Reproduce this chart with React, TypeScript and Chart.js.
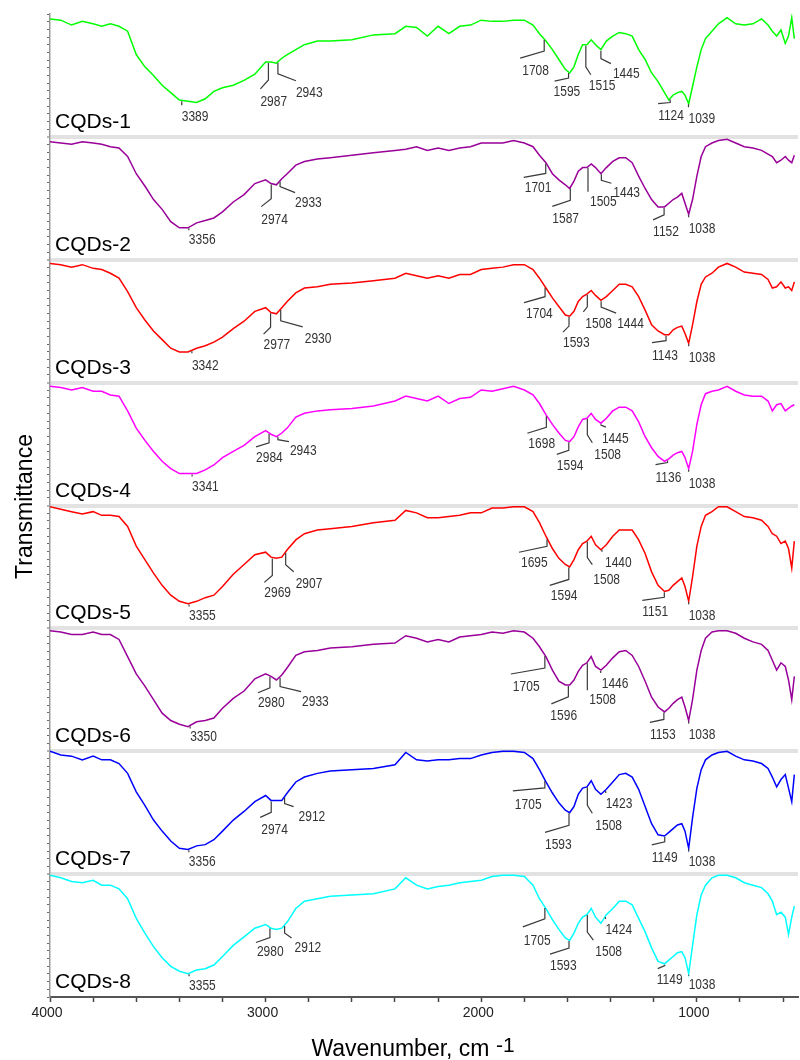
import { useEffect, useRef } from 'react';
import { Chart, registerables } from 'chart.js';

Chart.register(...registerables);

// Shared wavenumber grid (cm-1), descending
const WAVENUMBERS = [
  4000, 3950, 3900, 3850, 3800, 3760, 3720, 3680, 3640, 3600,
  3560, 3520, 3480, 3440, 3400, 3360, 3320, 3280, 3240, 3200,
  3150, 3100, 3050, 3000, 2975, 2950, 2925, 2900, 2860, 2820,
  2760, 2700, 2600, 2500, 2400, 2350, 2300, 2250, 2200, 2150,
  2100, 2050, 2000, 1950, 1900, 1850, 1800, 1760, 1730, 1700,
  1670, 1640, 1610, 1590, 1570, 1550, 1530, 1510, 1490, 1470,
  1445, 1420, 1390, 1360, 1330, 1300, 1270, 1240, 1210, 1180,
  1150, 1130, 1110, 1090, 1070, 1055, 1038, 1020, 1000, 980,
  960, 930, 900, 860, 820, 780, 740, 700, 670, 650,
  630, 610, 590, 575, 560, 548,
];

// Relative transmittance within each stacked panel (0 = panel bottom, 100 = panel top)
const CQD1 = [
  96, 95, 91, 94, 92, 90, 92, 90, 86, 67,
  57, 50, 42, 36, 30, 29, 28, 31, 37, 40,
  42, 46, 51, 61, 61, 60, 64, 67, 71, 75,
  78, 78, 79, 83, 84, 90, 89, 82, 90, 84,
  90, 91, 95, 94, 94, 95, 95, 91, 84, 78,
  71, 63, 55, 52, 57, 67, 75, 75, 79, 75,
  71, 78, 82, 85, 84, 82, 71, 63, 52, 45,
  36, 30, 34, 36, 37, 34, 27, 41, 57, 71,
  80, 86, 92, 97, 92, 91, 92, 96, 91, 86,
  82, 87, 76, 82, 97, 80,
];
const CQD2 = [
  96, 95, 94, 96, 95, 94, 92, 91, 84, 70,
  60, 49, 41, 31, 26, 26, 30, 32, 34, 39,
  47, 53, 62, 65, 62, 61, 66, 70, 77, 80,
  82, 83, 85, 87, 89, 90, 92, 89, 91, 89,
  91, 92, 95, 95, 95, 97, 95, 92, 85, 79,
  70, 65, 61, 58, 64, 72, 75, 75, 78, 75,
  70, 75, 80, 83, 83, 79, 68, 58, 49, 43,
  43, 46, 49, 51, 54, 46, 37, 49, 68, 84,
  92, 95, 97, 98, 95, 92, 91, 89, 86, 84,
  79, 81, 84, 81, 79, 85,
];
const CQD3 = [
  97, 96, 94, 96, 93, 92, 89, 85, 74, 61,
  51, 42, 35, 28, 25, 25, 28, 30, 33, 37,
  44, 50, 58, 61, 57, 56, 61, 66, 73, 77,
  78, 80, 81, 83, 85, 89, 87, 85, 87, 85,
  88, 88, 92, 93, 94, 96, 96, 92, 85, 77,
  69, 62, 55, 54, 58, 66, 70, 72, 75, 71,
  67, 70, 75, 80, 80, 78, 70, 59, 47, 42,
  39, 39, 43, 45, 46, 40, 32, 47, 66, 80,
  86, 89, 94, 97, 94, 90, 89, 88, 84, 77,
  78, 82, 77, 78, 75, 82,
];
const CQD4 = [
  97, 96, 94, 96, 93, 93, 90, 89, 77, 63,
  53, 44, 36, 30, 26, 26, 26, 29, 33, 39,
  44, 49, 56, 61, 58, 56, 59, 63, 72, 75,
  77, 78, 79, 81, 85, 89, 87, 85, 89, 83,
  87, 88, 94, 93, 95, 97, 94, 90, 83, 74,
  66, 59, 53, 52, 56, 64, 70, 71, 75, 70,
  67, 71, 77, 80, 80, 77, 68, 56, 47, 40,
  36, 38, 41, 43, 44, 39, 30, 44, 66, 82,
  91, 93, 94, 97, 93, 90, 89, 89, 85, 77,
  82, 83, 77, 79, 81, 82,
];
const CQD5 = [
  99, 97, 95, 93, 95, 92, 92, 91, 83, 67,
  56, 45, 35, 27, 22, 20, 22, 25, 27, 34,
  44, 52, 60, 62, 58, 57, 58, 64, 72, 77,
  80, 81, 83, 86, 88, 96, 94, 90, 90, 91,
  92, 94, 94, 98, 98, 99, 99, 95, 86, 75,
  65, 57, 52, 50, 56, 64, 69, 71, 75, 68,
  64, 68, 75, 80, 80, 80, 72, 61, 46, 35,
  30, 31, 35, 38, 41, 34, 22, 42, 67, 83,
  92, 95, 99, 99, 95, 91, 90, 88, 83, 77,
  75, 69, 71, 65, 49, 71,
];
const CQD6 = [
  98, 97, 95, 95, 97, 95, 95, 91, 77, 63,
  53, 42, 31, 25, 22, 20, 24, 25, 27, 35,
  43, 49, 59, 63, 61, 58, 62, 68, 78, 81,
  82, 84, 85, 87, 88, 94, 92, 89, 91, 89,
  93, 94, 95, 97, 96, 98, 97, 92, 85, 77,
  66, 57, 54, 54, 58, 65, 70, 72, 77, 69,
  66, 70, 76, 81, 82, 78, 69, 57, 44, 36,
  32, 35, 39, 42, 44, 36, 25, 42, 66, 82,
  92, 97, 98, 98, 96, 92, 89, 87, 82, 74,
  66, 72, 69, 58, 42, 61,
];
const CQD7 = [
  100, 97, 96, 93, 96, 93, 93, 90, 82, 67,
  56, 44, 35, 27, 21, 20, 23, 24, 28, 35,
  44, 51, 59, 64, 60, 60, 60, 66, 75, 79,
  82, 84, 85, 86, 89, 99, 93, 92, 93, 93,
  94, 94, 97, 99, 100, 100, 99, 94, 85, 75,
  66, 58, 52, 50, 55, 65, 70, 71, 76, 69,
  65, 69, 75, 81, 82, 79, 69, 55, 41, 32,
  31, 34, 37, 40, 41, 35, 21, 46, 70, 85,
  93, 97, 99, 100, 96, 93, 92, 90, 86, 79,
  71, 77, 81, 70, 59, 81,
];
const CQD8 = [
  99, 97, 94, 93, 95, 91, 91, 88, 80, 64,
  52, 41, 32, 25, 21, 19, 22, 23, 26, 33,
  42, 49, 56, 59, 56, 55, 56, 61, 72, 78,
  80, 82, 83, 84, 88, 97, 91, 88, 90, 91,
  93, 94, 95, 98, 99, 99, 98, 91, 80, 72,
  63, 55, 48, 46, 52, 60, 65, 67, 72, 65,
  60, 67, 72, 78, 78, 75, 64, 53, 40, 29,
  27, 30, 33, 36, 37, 32, 19, 42, 67, 83,
  91, 97, 99, 99, 97, 93, 91, 89, 84, 78,
  67, 69, 65, 51, 65, 74,
];

const SERIES_NAMES = ['CQDs-1', 'CQDs-2', 'CQDs-3', 'CQDs-4', 'CQDs-5', 'CQDs-6', 'CQDs-7', 'CQDs-8'];
const SERIES_COLORS = ['#00ff00', '#990099', '#ff0000', '#ff00ff', '#ff0000', '#990099', '#0000ff', '#00ffff'];

// Peak labels (cm-1) for each spectrum
const PEAKS1 = [3389, 2987, 2943, 1708, 1595, 1515, 1445, 1124, 1039];
const PEAKS2 = [3356, 2974, 2933, 1701, 1587, 1505, 1443, 1152, 1038];
const PEAKS3 = [3342, 2977, 2930, 1704, 1593, 1508, 1444, 1143, 1038];
const PEAKS4 = [3341, 2984, 2943, 1698, 1594, 1508, 1445, 1136, 1038];
const PEAKS5 = [3355, 2969, 2907, 1695, 1594, 1508, 1440, 1151, 1038];
const PEAKS6 = [3350, 2980, 2933, 1705, 1596, 1508, 1446, 1153, 1038];
const PEAKS7 = [3356, 2974, 2912, 1705, 1593, 1508, 1423, 1149, 1038];
const PEAKS8 = [3355, 2980, 2912, 1705, 1593, 1508, 1424, 1149, 1038];

const X_TICKS = [4000, 3800, 3600, 3400, 3200, 3000, 2800, 2600, 2400, 2200, 2000, 1800, 1600, 1400, 1200, 1000, 800, 600];
const X_MIN = 531;
const X_MAX = 4000;

// Leader-line styling per peak label: [vertical len, diag dx, diag dy, text dx, text dy] (pixels)
const LEADERS = [
  [[5, 0, 0, 0, 5], [18, -8, 9, 0, 6], [12, 18, 7, 0, 5], [12, -24, 7, 2, 6], [6, -14, 3, -1, 4], [22, 5, 8, -2, 4], [9, 10, 5, 2, 3], [4, -12, 1, 0, 5], [4, 0, 0, 0, 5]],
  [[3, 0, 0, 0, 3], [15, -10, 8, 0, 6], [6, 15, 6, 0, 3], [11, -22, 4, 1, 4], [13, -18, 6, 0, 6], [25, 0, 0, 2, 3], [7, 10, 3, 2, 3], [8, -11, 5, 0, 5], [3, 0, 0, 0, 5]],
  [[3, 0, 0, 0, 6], [15, -7, 7, 0, 4], [12, 22, 6, 2, 5], [10, -21, 6, 2, 4], [10, -6, 6, 0, 4], [13, -4, 5, 2, 5], [7, 15, 6, 1, 4], [6, -14, 2, 0, 6], [3, 0, 0, 0, 5]],
  [[3, 0, 0, 0, 3], [10, -13, 4, 0, 4], [4, 11, 2, 1, 2], [12, -19, 6, 1, 4], [9, -12, 4, 0, 5], [17, 5, 8, 2, 5], [2, 5, 2, -4, 5], [3, -12, 2, 0, 6], [3, 0, 0, 0, 5]],
  [[3, 0, 0, 0, 3], [18, -8, 7, 0, 4], [13, 8, 7, 2, 5], [8, -28, 6, 2, 4], [13, -19, 6, 1, 4], [17, 5, 7, 1, 8], [3, 0, 0, 3, 4], [6, -22, 3, 0, 5], [3, 0, 0, 0, 5]],
  [[3, 0, 0, 0, 2], [12, -12, 5, 0, 3], [10, 21, 5, 1, 3], [13, -34, 6, 2, 6], [12, -17, 7, -1, 5], [28, 0, 0, 2, 3], [3, 0, 0, 1, 4], [8, -14, 3, 0, 6], [3, 0, 0, 0, 4]],
  [[3, 0, 0, 0, 3], [12, -11, 5, 1, 6], [7, 9, 3, 5, 3], [8, -32, 3, 2, 7], [13, -24, 7, 0, 6], [19, 5, 8, 3, 6], [3, 0, 0, 0, 4], [6, -13, 3, 0, 6], [3, 0, 0, 0, 4]],
  [[3, 0, 0, 0, 3], [10, -14, 5, 1, 3], [8, 7, 5, 3, 3], [12, -22, 8, 1, 7], [8, -19, 6, 0, 5], [18, 6, 8, 2, 5], [3, 0, 0, 0, 4], [2, -7, 3, -1, 4], [2, 0, 0, 0, 2]],
];

const FONT = '"Liberation Sans", Arial, sans-serif';

function valueAt(vals: number[], w: number): number {
  for (let j = 0; j < WAVENUMBERS.length - 1; j++) {
    const a = WAVENUMBERS[j];
    const b = WAVENUMBERS[j + 1];
    if (w <= a && w >= b) {
      const t = (a - w) / (a - b);
      return vals[j] + (vals[j + 1] - vals[j]) * t;
    }
  }
  return vals[vals.length - 1];
}

export default function App() {
  const ref = useRef<HTMLCanvasElement>(null);

  useEffect(() => {
    const series = [CQD1, CQD2, CQD3, CQD4, CQD5, CQD6, CQD7, CQD8];
    const peaks = [PEAKS1, PEAKS2, PEAKS3, PEAKS4, PEAKS5, PEAKS6, PEAKS7, PEAKS8];
    const n = series.length;

    const datasets = series.map((vals, i) => ({
      label: SERIES_NAMES[i],
      data: WAVENUMBERS.map((w, j) => ({ x: w, y: (n - 1 - i) * 100 + vals[j] })),
      borderColor: SERIES_COLORS[i],
      borderWidth: 1.5,
      pointRadius: 0,
      fill: false,
      tension: 0,
    }));

    const isSep = (v: number | undefined) =>
      v !== undefined && Math.abs(v % 100) < 1e-6 && v > 0 && v < n * 100;

    const annotate = {
      id: 'annotate',
      afterDatasetsDraw(chart: any) {
        const { ctx, scales } = chart;
        const x = scales.x;
        const y = scales.y;
        ctx.save();
        series.forEach((vals, i) => {
          const off = (n - 1 - i) * 100;
          ctx.fillStyle = '#000';
          ctx.font = `21px ${FONT}`;
          ctx.textAlign = 'left';
          ctx.textBaseline = 'alphabetic';
          ctx.fillText(SERIES_NAMES[i], x.left + 5, y.getPixelForValue(off) - 9);

          peaks[i].forEach((w, k) => {
            const [a, dx, dy, tx, ty] = LEADERS[i][k];
            const px = x.getPixelForValue(w);
            const py = y.getPixelForValue(off + valueAt(vals, w));
            ctx.strokeStyle = '#3a3a3a';
            ctx.lineWidth = 1.2;
            ctx.beginPath();
            ctx.moveTo(px, py + 1);
            ctx.lineTo(px, py + a);
            if (dx || dy) ctx.lineTo(px + dx, py + a + dy);
            ctx.stroke();
            const ex = px + dx;
            const ey = py + a + dy;
            ctx.save();
            ctx.translate(ex + tx, ey + ty + 11);
            ctx.scale(0.8, 1);
            ctx.fillStyle = '#333';
            ctx.font = `15px ${FONT}`;
            ctx.fillText(String(w), 0, 0);
            ctx.restore();
          });
        });
        ctx.restore();
      },
      afterDraw(chart: any) {
        const { ctx, chartArea } = chart;
        ctx.save();
        ctx.fillStyle = '#000';
        // Y title
        ctx.save();
        ctx.translate(32, (chartArea.top + chartArea.bottom) / 2 + 1);
        ctx.rotate(-Math.PI / 2);
        ctx.font = `23px ${FONT}`;
        ctx.textAlign = 'center';
        ctx.textBaseline = 'alphabetic';
        ctx.fillText('Transmittance', 0, 0);
        ctx.restore();
        // X title with superscript
        const main = 'Wavenumber, cm ';
        const sup = '-1';
        ctx.font = `23px ${FONT}`;
        const wMain = ctx.measureText(main).width;
        ctx.font = `21px ${FONT}`;
        const wSup = ctx.measureText(sup).width;
        const cx = (chartArea.left + chartArea.right) / 2 - 11;
        const start = cx - (wMain + wSup) / 2;
        ctx.textAlign = 'left';
        ctx.textBaseline = 'alphabetic';
        ctx.font = `23px ${FONT}`;
        ctx.fillText(main, start, 1056);
        ctx.font = `21px ${FONT}`;
        ctx.fillText(sup, start + wMain, 1052);
        ctx.restore();
      },
    };

    Chart.defaults.font.family = FONT;

    const chart = new Chart(ref.current as HTMLCanvasElement, {
      type: 'line',
      data: { datasets },
      options: {
        animation: false,
        responsive: false,
        devicePixelRatio: 1,
        layout: { padding: { top: 14, right: 2, left: 0, bottom: 0 } },
        plugins: { legend: { display: false }, tooltip: { enabled: false } },
        scales: {
          x: {
            type: 'linear',
            reverse: true,
            min: X_MIN,
            max: X_MAX,
            afterBuildTicks: (s: any) => {
              s.ticks = X_TICKS.map((v) => ({ value: v }));
            },
            afterFit: (s: any) => {
              s.height = 63;
            },
            ticks: {
              autoSkip: false,
              maxRotation: 0,
              color: '#222',
              font: { size: 14, family: FONT },
              padding: 3,
              labelOffset: -3,
              callback: (v: any) => (Number(v) % 1000 === 0 ? String(v) : ''),
            },
            grid: { drawOnChartArea: false, tickLength: 5, tickColor: '#444', tickWidth: 1.5 },
            border: { color: '#555', width: 2 },
          },
          y: {
            type: 'linear',
            min: 0,
            max: n * 100,
            afterBuildTicks: (s: any) => {
              const t = [];
              for (let k = 0; k <= n * 16; k++) t.push({ value: k * 6.25 });
              s.ticks = t;
            },
            afterFit: (s: any) => {
              s.width = 50;
            },
            ticks: { autoSkip: false, callback: () => '' },
            grid: {
              color: (c: any) => (isSep(c.tick?.value) ? '#e2e2e2' : 'rgba(0,0,0,0)'),
              lineWidth: (c: any) => (isSep(c.tick?.value) ? 4 : 1),
              tickColor: '#666',
              tickWidth: 1,
              tickLength: 3,
            },
            border: { color: '#999', width: 1.5 },
          },
        },
      },
      plugins: [annotate],
    });

    return () => chart.destroy();
  }, []);

  return (
    <div style={{ position: 'absolute', left: 0, top: 0, width: 800, height: 1060, background: '#fff' }}>
      <canvas ref={ref} width={800} height={1060} style={{ display: 'block' }} />
    </div>
  );
}
